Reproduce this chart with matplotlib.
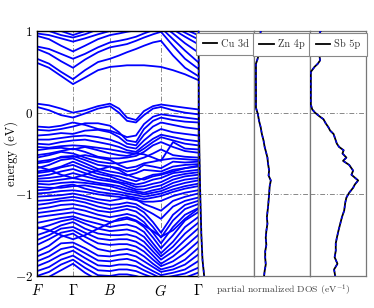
import numpy as np
import matplotlib.pyplot as plt

plt.rcParams['mathtext.fontset'] = 'cm'
plt.rcParams['font.family'] = ['cmr10', 'DejaVu Serif']
plt.rcParams['axes.unicode_minus'] = False

# k-path (distance along path) and high-symmetry points
k = [0, 12, 24, 36, 48, 61, 73, 82, 90, 99, 107, 116, 124, 136, 148, 161]
k_ticks = [0, 36, 73, 124, 161]
k_labels = [r'$F$', r'$\Gamma$', r'$B$', r'$G$', r'$\Gamma$']

# conduction bands (eV), one row per band
conduction = [
    [0.61, 0.55, 0.45, 0.35, 0.43, 0.52, 0.56, 0.57, 0.58, 0.58, 0.58, 0.57, 0.56, 0.52, 0.47, 0.40],
    [0.66, 0.60, 0.50, 0.41, 0.52, 0.62, 0.66, 0.70, 0.74, 0.78, 0.82, 0.86, 0.88, 0.70, 0.55, 0.45],
    [0.78, 0.72, 0.63, 0.55, 0.65, 0.74, 0.80, 0.82, 0.84, 0.88, 0.92, 0.96, 0.99, 0.82, 0.66, 0.54],
    [0.81, 0.78, 0.72, 0.66, 0.72, 0.80, 0.86, 0.88, 0.90, 0.93, 0.97, 1.01, 1.04, 0.90, 0.76, 0.62],
    [0.94, 0.90, 0.82, 0.75, 0.82, 0.90, 0.95, 0.97, 0.99, 1.01, 1.04, 1.06, 1.08, 0.97, 0.85, 0.74],
    [0.97, 0.95, 0.91, 0.87, 0.91, 0.96, 1.00, 1.02, 1.05, 1.07, 1.08, 1.10, 1.12, 1.02, 0.93, 0.84],
    [1.04, 1.00, 0.95, 0.92, 0.96, 1.02, 1.06, 1.08, 1.10, 1.11, 1.12, 1.14, 1.15, 1.06, 0.98, 0.90],
    [1.10, 1.06, 1.00, 0.95, 1.00, 1.06, 1.10, 1.12, 1.15, 1.17, 1.18, 1.19, 1.20, 1.10, 1.02, 0.95],
]

# valence bands (eV)
valence = [
    [0.11, 0.09, 0.05, 0.00, 0.03, 0.08, 0.11, 0.05, -0.06, -0.09, 0.02, 0.08, 0.10, 0.08, 0.06, 0.04],
    [0.07, 0.03, -0.03, -0.06, -0.01, 0.05, 0.08, 0.00, -0.10, -0.12, -0.03, 0.05, 0.07, 0.03, 0.00, -0.02],
    [-0.17, -0.18, -0.16, -0.12, -0.15, -0.20, -0.22, -0.26, -0.30, -0.28, -0.14, -0.05, -0.02, -0.04, -0.06, -0.08],
    [-0.21, -0.22, -0.20, -0.17, -0.13, -0.13, -0.16, -0.24, -0.34, -0.36, -0.20, -0.10, -0.06, -0.09, -0.11, -0.12],
    [-0.28, -0.27, -0.25, -0.26, -0.22, -0.21, -0.24, -0.30, -0.38, -0.40, -0.27, -0.17, -0.12, -0.15, -0.18, -0.20],
    [-0.33, -0.33, -0.31, -0.29, -0.28, -0.30, -0.33, -0.37, -0.42, -0.44, -0.34, -0.25, -0.20, -0.24, -0.26, -0.28],
    [-0.38, -0.39, -0.36, -0.34, -0.33, -0.36, -0.39, -0.42, -0.46, -0.48, -0.40, -0.32, -0.27, -0.30, -0.33, -0.35],
    [-0.42, -0.43, -0.41, -0.40, -0.41, -0.43, -0.45, -0.47, -0.49, -0.50, -0.51, -0.55, -0.59, -0.36, -0.44, -0.45],
    [-0.46, -0.44, -0.43, -0.45, -0.42, -0.46, -0.50, -0.52, -0.53, -0.50, -0.44, -0.36, -0.30, -0.34, -0.38, -0.40],
    [-0.52, -0.50, -0.47, -0.44, -0.48, -0.54, -0.56, -0.56, -0.55, -0.53, -0.48, -0.40, -0.36, -0.42, -0.47, -0.49],
    [-0.55, -0.52, -0.48, -0.50, -0.55, -0.60, -0.62, -0.62, -0.60, -0.58, -0.55, -0.50, -0.45, -0.52, -0.54, -0.55],
    [-0.60, -0.58, -0.55, -0.54, -0.52, -0.55, -0.58, -0.64, -0.68, -0.66, -0.62, -0.60, -0.58, -0.56, -0.57, -0.58],
    [-0.62, -0.60, -0.54, -0.53, -0.58, -0.64, -0.66, -0.68, -0.72, -0.70, -0.64, -0.66, -0.68, -0.60, -0.61, -0.60],
    [-0.66, -0.70, -0.76, -0.80, -0.76, -0.70, -0.66, -0.70, -0.76, -0.80, -0.82, -0.78, -0.76, -0.72, -0.68, -0.65],
    [-0.68, -0.64, -0.58, -0.56, -0.62, -0.69, -0.72, -0.74, -0.77, -0.74, -0.70, -0.71, -0.72, -0.66, -0.64, -0.63],
    [-0.72, -0.70, -0.66, -0.60, -0.66, -0.72, -0.76, -0.78, -0.81, -0.84, -0.80, -0.76, -0.75, -0.70, -0.68, -0.66],
    [-0.74, -0.72, -0.67, -0.64, -0.70, -0.75, -0.78, -0.82, -0.85, -0.88, -0.86, -0.82, -0.80, -0.74, -0.72, -0.70],
    [-0.78, -0.76, -0.72, -0.69, -0.74, -0.79, -0.82, -0.85, -0.87, -0.91, -0.90, -0.87, -0.85, -0.78, -0.75, -0.73],
    [-0.81, -0.80, -0.78, -0.74, -0.78, -0.82, -0.84, -0.86, -0.90, -0.94, -0.94, -0.91, -0.89, -0.82, -0.78, -0.76],
    [-0.84, -0.84, -0.82, -0.80, -0.83, -0.86, -0.88, -0.90, -0.93, -0.96, -0.98, -0.95, -0.93, -0.86, -0.82, -0.80],
    [-0.87, -0.88, -0.86, -0.85, -0.86, -0.88, -0.90, -0.93, -0.96, -0.98, -1.00, -0.98, -0.96, -0.90, -0.86, -0.83],
    [-0.91, -0.92, -0.92, -0.90, -0.89, -0.92, -0.95, -0.97, -0.99, -1.01, -1.03, -1.01, -0.99, -0.94, -0.90, -0.87],
    [-0.95, -0.94, -0.90, -0.88, -0.93, -0.97, -0.99, -1.00, -1.02, -1.04, -1.06, -1.04, -1.02, -0.97, -0.93, -0.90],
    [-0.99, -0.98, -0.96, -0.95, -0.97, -1.00, -1.02, -1.03, -1.05, -1.07, -1.09, -1.09, -1.08, -1.02, -0.98, -0.95],
    [-1.03, -1.02, -1.01, -0.99, -1.02, -1.06, -1.08, -1.06, -1.04, -1.06, -1.12, -1.16, -1.20, -1.08, -1.03, -0.99],
    [-1.08, -1.07, -1.05, -1.03, -1.06, -1.10, -1.13, -1.12, -1.10, -1.12, -1.18, -1.24, -1.30, -1.15, -1.08, -1.04],
    [-1.13, -1.11, -1.08, -1.07, -1.10, -1.15, -1.18, -1.16, -1.14, -1.16, -1.22, -1.34, -1.47, -1.25, -1.13, -1.08],
    [-1.18, -1.16, -1.13, -1.12, -1.15, -1.20, -1.22, -1.20, -1.18, -1.21, -1.28, -1.40, -1.53, -1.32, -1.18, -1.12],
    [-1.23, -1.21, -1.19, -1.17, -1.20, -1.25, -1.28, -1.26, -1.24, -1.27, -1.34, -1.47, -1.60, -1.40, -1.25, -1.17],
    [-1.28, -1.26, -1.24, -1.22, -1.26, -1.30, -1.34, -1.32, -1.30, -1.33, -1.40, -1.53, -1.66, -1.50, -1.32, -1.22],
    [-1.35, -1.32, -1.29, -1.27, -1.32, -1.36, -1.40, -1.38, -1.37, -1.40, -1.46, -1.60, -1.72, -1.58, -1.40, -1.28],
    [-1.40, -1.44, -1.50, -1.55, -1.50, -1.42, -1.35, -1.30, -1.28, -1.32, -1.38, -1.45, -1.52, -1.44, -1.30, -1.18],
    [-1.42, -1.38, -1.33, -1.30, -1.36, -1.42, -1.45, -1.44, -1.43, -1.46, -1.52, -1.65, -1.76, -1.64, -1.48, -1.35],
    [-1.50, -1.45, -1.38, -1.34, -1.42, -1.48, -1.50, -1.50, -1.49, -1.52, -1.58, -1.70, -1.80, -1.70, -1.56, -1.42],
    [-1.56, -1.50, -1.42, -1.40, -1.47, -1.54, -1.56, -1.55, -1.55, -1.58, -1.64, -1.75, -1.85, -1.76, -1.64, -1.50],
    [-1.62, -1.55, -1.47, -1.44, -1.52, -1.60, -1.62, -1.61, -1.61, -1.64, -1.70, -1.80, -1.88, -1.82, -1.72, -1.58],
    [-1.70, -1.63, -1.52, -1.48, -1.58, -1.67, -1.70, -1.68, -1.67, -1.70, -1.76, -1.85, -1.92, -1.88, -1.80, -1.66],
    [-1.76, -1.70, -1.60, -1.59, -1.66, -1.75, -1.76, -1.74, -1.73, -1.76, -1.82, -1.89, -1.95, -1.92, -1.86, -1.74],
    [-1.82, -1.76, -1.67, -1.64, -1.72, -1.81, -1.82, -1.80, -1.79, -1.82, -1.88, -1.94, -1.99, -1.96, -1.92, -1.82],
    [-1.88, -1.82, -1.74, -1.69, -1.78, -1.87, -1.88, -1.86, -1.86, -1.88, -1.93, -1.98, -2.03, -2.00, -1.97, -1.90],
    [-1.94, -1.89, -1.80, -1.75, -1.84, -1.93, -1.94, -1.92, -1.92, -1.94, -1.98, -2.02, -2.06, -2.04, -2.02, -1.96],
    [-2.00, -1.95, -1.86, -1.80, -1.90, -1.99, -2.00, -1.98, -1.98, -2.00, -2.03, -2.06, -2.10, -2.08, -2.06, -2.02],
    [-2.06, -2.01, -1.93, -1.85, -1.96, -2.05, -2.06, -2.04, -2.04, -2.06, -2.08, -2.10, -2.14, -2.12, -2.10, -2.08],
]

# partial DOS curves (energy, normalized DOS)
cu_E = [1.0, 0.5, 0.0, -0.5, -1.0, -1.5, -1.8, -2.0]
cu_dos = [0.01, 0.012, 0.015, 0.025, 0.04, 0.06, 0.08, 0.11]

zn_E = [1.0, 0.95, 0.9, 0.8, 0.72, 0.65, 0.6, 0.4, 0.2, 0.06, -0.02, -0.1, -0.18, -0.26,
        -0.34, -0.42, -0.47, -0.55, -0.62, -0.71, -0.77, -0.83, -0.9, -1.0, -1.08, -1.16,
        -1.28, -1.36, -1.45, -1.53, -1.62, -1.7, -1.78, -1.86, -1.94, -2.0]
zn_dos = [0.12, 0.11, 0.10, 0.095, 0.09, 0.06, 0.035, 0.035, 0.036, 0.035, 0.07, 0.09,
          0.12, 0.14, 0.17, 0.19, 0.21, 0.24, 0.25, 0.27, 0.26, 0.30, 0.28, 0.27, 0.26,
          0.25, 0.23, 0.24, 0.22, 0.21, 0.22, 0.20, 0.20, 0.21, 0.19, 0.18]

sb_E = [1.0, 0.95, 0.9, 0.82, 0.75, 0.64, 0.6, 0.56, 0.5, 0.3, 0.1, 0.04, 0.0, -0.04, -0.08,
        -0.13, -0.18, -0.22, -0.26, -0.32, -0.38, -0.42, -0.46, -0.5, -0.55, -0.59, -0.64,
        -0.71, -0.76, -0.83, -0.88, -0.92, -0.98, -1.04, -1.1, -1.2, -1.28, -1.36, -1.44,
        -1.53, -1.6, -1.69, -1.77, -1.85, -1.92, -2.0]
sb_dos = [0.19, 0.16, 0.14, 0.15, 0.16, 0.18, 0.14, 0.08, 0.015, 0.015, 0.015, 0.04, 0.09,
          0.16, 0.24, 0.28, 0.33, 0.36, 0.42, 0.45, 0.48, 0.52, 0.60, 0.58, 0.65, 0.59, 0.70,
          0.77, 0.74, 0.86, 0.80, 0.77, 0.70, 0.65, 0.63, 0.61, 0.57, 0.54, 0.51, 0.48, 0.46,
          0.46, 0.44, 0.49, 0.43, 0.45]

fig = plt.figure(figsize=(3.74, 3.08), dpi=100)
W, H = 374, 308

def px_axes(x0, x1, y0, y1):
    return fig.add_axes([x0 / W, 1 - y1 / H, (x1 - x0) / W, (y1 - y0) / H])

grid_kw = dict(color='#888888', lw=0.7, ls=(0, (5, 2, 1, 2)), zorder=0)

# band structure
ax = px_axes(37, 198, 31, 276)
for band in conduction + valence:
    ax.plot(k, band, color='#0000ff', lw=1.3, zorder=2)
ax.set_xlim(0, 161)
ax.set_ylim(-2, 1)
for kt in k_ticks[1:-1]:
    ax.axvline(kt, **grid_kw)
for e in [0, -1]:
    ax.axhline(e, **grid_kw)
ax.set_xticks(k_ticks)
ax.set_xticklabels(k_labels, fontsize=10.5)
ax.set_yticks([1, 0, -1, -2])
ax.set_yticklabels([r'$\mathbf{1}$', r'$\mathbf{0}$', r'$\mathbf{-1}$', r'$\mathbf{-2}$'], fontsize=9.5)
ax.tick_params(axis='x', length=0, pad=5)
ax.tick_params(axis='y', length=0, pad=3)
ax.set_ylabel('energy (eV)', fontsize=9)
ax.yaxis.set_label_coords(-0.12, 0.5)
for s in ax.spines.values():
    s.set_linewidth(1.0)

# partial DOS panels
panels = [
    ('Cu 3d', cu_E, cu_dos, 198, 254),
    ('Zn 4p', zn_E, zn_dos, 254, 310),
    ('Sb 5p', sb_E, sb_dos, 310, 366),
]
for name, E, dos, x0, x1 in panels:
    a = px_axes(x0, x1, 31, 276)
    a.plot(dos, E, color='black', lw=1.3, label=name, zorder=3)
    a.plot(dos, E, color='#0000ff', lw=1.0, ls=(0, (2, 2)), zorder=4)
    for e in [0, -1]:
        a.axhline(e, **grid_kw)
    a.set_xlim(0, 1)
    a.set_ylim(-2, 1)
    a.set_xticks([])
    a.set_yticks([])
    for s in a.spines.values():
        s.set_color('#777777')
        s.set_linewidth(0.9)
    leg = a.legend(loc='upper center', fontsize=7.5, handlelength=1.4, handletextpad=0.4,
                   borderpad=0.6, borderaxespad=0.2, fancybox=False, framealpha=1)
    leg.get_frame().set_edgecolor('#888888')
    leg.get_frame().set_linewidth(0.8)
    for t in leg.get_texts():
        t.set_color('#333333')

fig.text(283 / W, 1 - 290 / H, r'partial normalized DOS (eV$^{-1}$)', fontsize=7,
         color='#444444', ha='center', va='center')

fig.savefig('out.png', dpi=100)
